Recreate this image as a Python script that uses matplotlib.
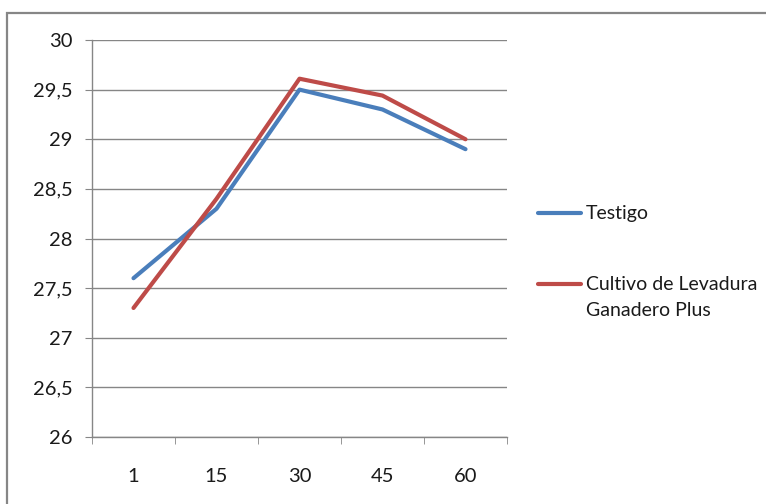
import numpy as np
import matplotlib
matplotlib.use('Agg')
from matplotlib import pyplot as plt
from matplotlib.lines import Line2D
from matplotlib.patches import Rectangle

# datos
dias = ['1', '15', '30', '45', '60']
testigo = [27.6, 28.3, 29.5, 29.3, 28.9]
levadura = [27.3, 28.4, 29.61, 29.44, 29.0]
y_ticks = [26, 26.5, 27, 27.5, 28, 28.5, 29, 29.5, 30]
y_labels = ['26', '26,5', '27', '27,5', '28', '28,5', '29', '29,5', '30']
series_names = ['Testigo', 'Cultivo de Levadura', 'Ganadero Plus']

azul = '#4A7EBB'
rojo = '#BE4B48'
gris = '#868686'

plt.rcParams['font.family'] = ['Lato', 'DejaVu Sans']

W, H = 766, 504
fig = plt.figure(figsize=(W / 100, H / 100), dpi=100)

# marco exterior del grafico
fig.add_artist(Rectangle((7 / W, -0.1), 1.2, 1 - 13 / H + 0.1, transform=fig.transFigure,
                         fill=False, edgecolor=gris, linewidth=1.6))

ax = fig.add_axes([92 / W, 1 - 437 / H, (507 - 92) / W, (437 - 40) / H])
x = np.arange(len(dias))
ax.plot(x, testigo, color=azul, lw=3.0, solid_capstyle='round', solid_joinstyle='round')
ax.plot(x, levadura, color=rojo, lw=3.0, solid_capstyle='round', solid_joinstyle='round')

ax.set_xlim(-0.5, len(dias) - 0.5)
ax.set_ylim(26, 30)
ax.set_yticks(y_ticks)
ax.set_yticklabels(y_labels)
ax.set_xticks(x)
ax.set_xticklabels(dias)
ax.set_xticks(np.arange(-0.5, len(dias)), minor=True)

ax.grid(axis='y', color=gris, linewidth=1.0)
ax.set_axisbelow(True)
for s in ['top', 'right']:
    ax.spines[s].set_visible(False)
for s in ['left', 'bottom']:
    ax.spines[s].set_color(gris)
    ax.spines[s].set_linewidth(1.0)

ax.tick_params(axis='y', which='major', length=5, color=gris, labelsize=14.5, pad=9)
ax.tick_params(axis='x', which='major', length=0, labelsize=14.5, pad=22)
ax.tick_params(axis='x', which='minor', length=5, color=gris)
ax.tick_params(labelcolor='#1a1a1a')

# leyenda
fig.add_artist(Line2D([538 / W, 581 / W], [1 - 213 / H] * 2, transform=fig.transFigure,
                      color=azul, lw=3.0, solid_capstyle='round'))
fig.add_artist(Line2D([538 / W, 581 / W], [1 - 284 / H] * 2, transform=fig.transFigure,
                      color=rojo, lw=3.0, solid_capstyle='round'))
fig.text(586 / W, 1 - 213 / H, series_names[0], fontsize=14, va='center', color='#1a1a1a')
fig.text(586 / W, 1 - 284 / H, series_names[1], fontsize=14, va='center', color='#1a1a1a')
fig.text(586 / W, 1 - 311 / H, series_names[2], fontsize=14, va='center', color='#1a1a1a')

fig.savefig('out.png', dpi=100)
